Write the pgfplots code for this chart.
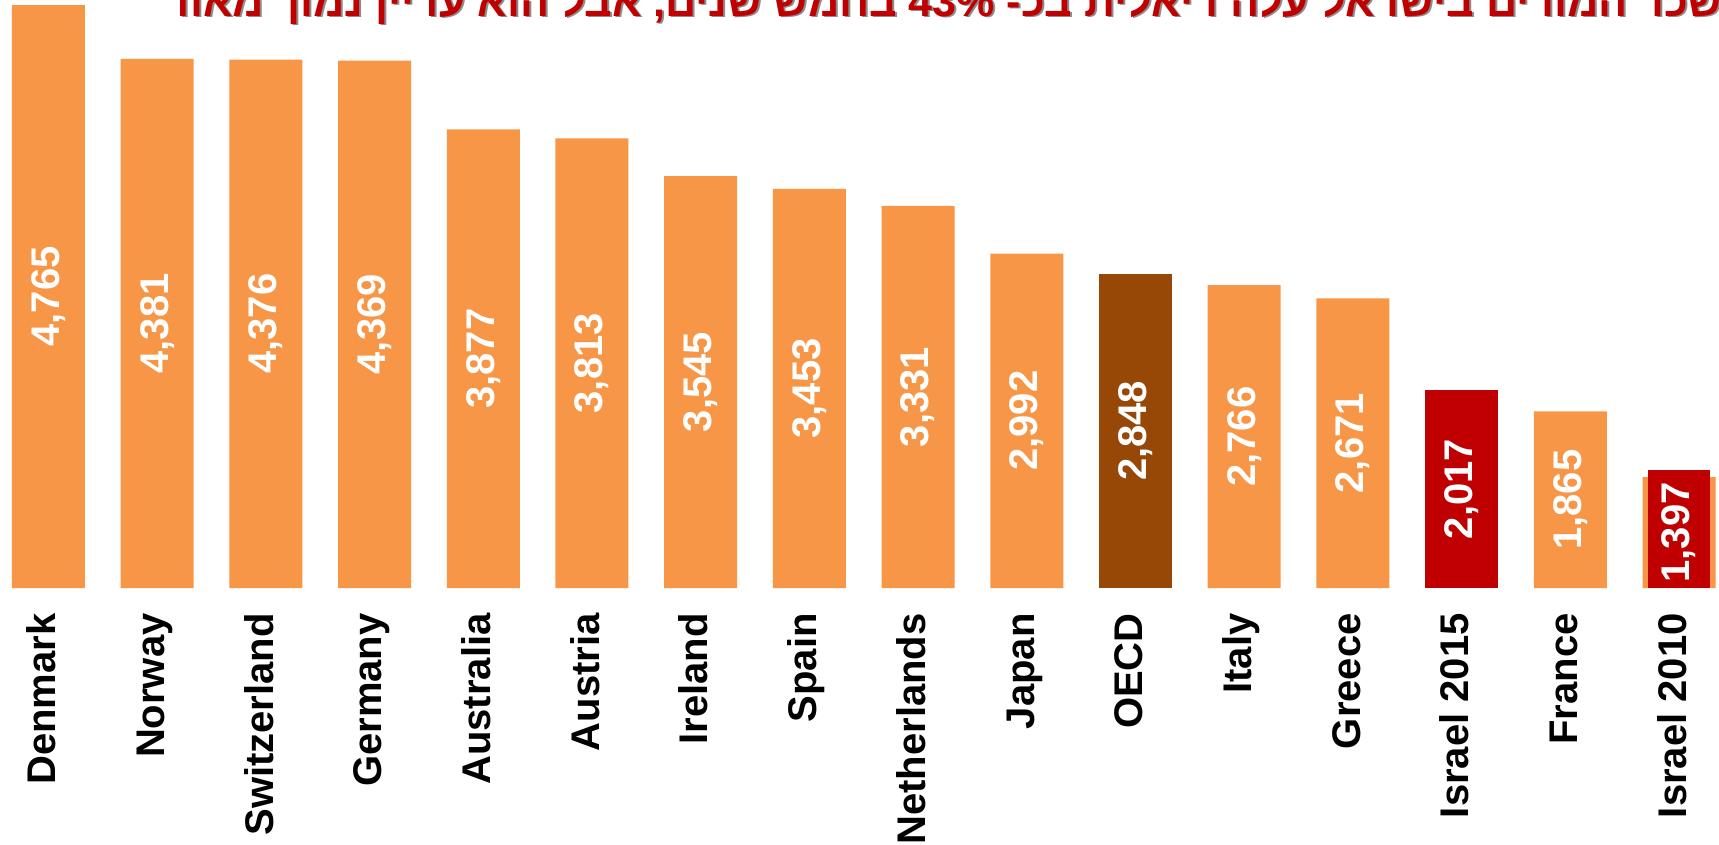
\documentclass[border=0pt]{standalone}
\usepackage{fontspec}
\setmainfont{Liberation Sans}
\newfontfamily\hebfont[Script=Hebrew]{Liberation Sans}
\TeXXeTstate=1
\usepackage{pgfplots}
\pgfplotsset{compat=1.18}
\definecolor{barorange}{HTML}{F79646}
\definecolor{oecdbrown}{HTML}{974806}
\definecolor{isrred}{HTML}{C00000}
\newcommand{\bigbold}{\bfseries\fontsize{20}{24}\selectfont}
\newcommand{\titletext}{\beginR שכר המורים בישראל עלה ריאלית בכ- \beginL 43\%\endL{} בחמש שנים, אבל הוא עדיין נמוך מאוד\endR}

\begin{document}
\begin{tikzpicture}
\begin{axis}[
    scale only axis,
    width=859.5pt, height=294pt,
    xmin=-0.446, xmax=15.368,
    ymin=605, ymax=4801,
    axis line style={draw=none},
    tick style={draw=none},
    major tick length=0pt,
    ytick=\empty,
    xtick={0,...,15},
    xticklabels={Denmark,Norway,Switzerland,Germany,Australia,Austria,Ireland,Spain,Netherlands,Japan,OECD,Italy,Greece,Israel 2015,France,Israel 2010},
    xticklabel style={font=\bigbold, rotate=90, anchor=east, inner sep=0pt, text height=0.72em, text depth=0pt},
    xticklabel shift=12.5pt,
    /pgf/number format/.cd, 1000 sep={,}, assume math mode=true,
]
% bars
\addplot[ybar, bar width=36.5pt, bar shift=0pt, fill=barorange, draw=none]
    coordinates {(0,4765)(1,4381)(2,4376)(3,4369)(4,3877)(5,3813)(6,3545)(7,3453)(8,3331)(9,2992)(11,2766)(12,2671)(14,1865)(15,1397)};
\addplot[ybar, bar width=36.5pt, bar shift=0pt, fill=oecdbrown, draw=none]
    coordinates {(10,2848)};
\addplot[ybar, bar width=36.5pt, bar shift=0pt, fill=isrred, draw=none]
    coordinates {(13,2017)};
% red box laid over the Israel 2010 bar
\addplot[ybar, bar width=31pt, bar shift=0pt, fill=isrred, draw=none]
    coordinates {(15,1447)};
% value labels, set half way up each bar
\addplot[draw=none, mark=none, nodes near coords, point meta=explicit,
    every node near coord/.append style={font=\bigbold, text=white, rotate=90, anchor=center}]
    coordinates {(0,2685)[4765] (1,2493)[4381] (2,2490.5)[4376] (3,2487)[4369]
                 (4,2241)[3877] (5,2209)[3813] (6,2075)[3545] (7,2029)[3453]
                 (8,1968)[3331] (9,1798.5)[2992] (10,1726.5)[2848] (11,1685.5)[2766]
                 (12,1638)[2671] (13,1311)[2017] (14,1235)[1865] (15,1001)[1397]};
\end{axis}
% title, cut by the top edge of the page
\node[overlay, anchor=base west, inner sep=0pt, font=\hebfont\bfseries\fontsize{21.5}{26}\selectfont, text=black!45] at (83.5pt,285.25pt) {\titletext};
\node[overlay, anchor=base west, inner sep=0pt, font=\hebfont\bfseries\fontsize{21.5}{26}\selectfont, text=isrred] at (82.5pt,285.75pt) {\titletext};
\end{tikzpicture}
\end{document}
